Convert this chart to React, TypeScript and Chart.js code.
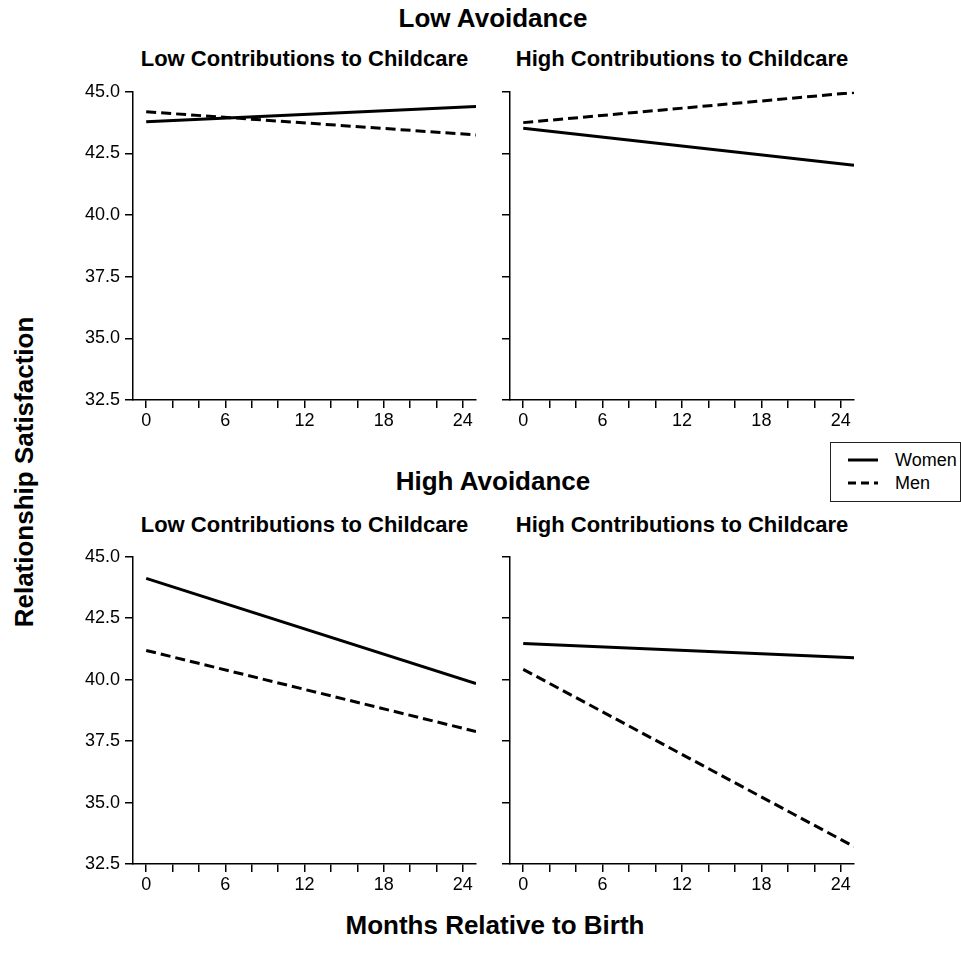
import React, { useEffect, useRef } from "react";
import { Chart, registerables } from "chart.js";

Chart.register(...registerables);

// ---- data ----
const months = [0, 25];
const xTickValues = [0, 2, 4, 6, 8, 10, 12, 14, 16, 18, 20, 22, 24];
const xLabelValues = [0, 6, 12, 18, 24];
const yTickValues = [32.5, 35.0, 37.5, 40.0, 42.5, 45.0];

const lowAvoidLowCareWomen = [43.79, 44.4];
const lowAvoidLowCareMen = [44.19, 43.25];
const lowAvoidHighCareWomen = [43.52, 42.02];
const lowAvoidHighCareMen = [43.75, 44.97];
const highAvoidLowCareWomen = [44.12, 39.84];
const highAvoidLowCareMen = [41.19, 37.89];
const highAvoidHighCareWomen = [41.47, 40.89];
const highAvoidHighCareMen = [40.42, 33.21];

const seriesNames = ["Women", "Men"];
const rowTitles = ["Low Avoidance", "High Avoidance"];
const colTitles = ["Low Contributions to Childcare", "High Contributions to Childcare"];
const xAxisTitle = "Months Relative to Birth";
const yAxisTitle = "Relationship Satisfaction";

const FONT = "'Liberation Sans', Arial, Helvetica, sans-serif";

type PanelProps = {
  left: number;
  top: number;
  width: number;
  height: number;
  yWidth: number;
  xHeight: number;
  padRight: number;
  padTop: number;
  showY: boolean;
  women: number[];
  men: number[];
};

function Panel(p: PanelProps) {
  const ref = useRef<HTMLCanvasElement | null>(null);
  useEffect(() => {
    if (!ref.current) return;
    const gridOpts = {
      display: true,
      drawOnChartArea: false,
      drawTicks: true,
      tickLength: 8,
      color: "#000",
      lineWidth: 1.5,
    };
    const borderOpts = { display: true, color: "#000", width: 1.5 };
    const chart = new Chart(ref.current, {
      type: "line",
      data: {
        datasets: [
          {
            label: seriesNames[0],
            data: months.map((m, i) => ({ x: m, y: p.women[i] })),
            borderColor: "#000",
            borderWidth: 3,
            pointRadius: 0,
            fill: false,
            tension: 0,
          },
          {
            label: seriesNames[1],
            data: months.map((m, i) => ({ x: m, y: p.men[i] })),
            borderColor: "#000",
            borderWidth: 3,
            borderDash: [10, 5],
            pointRadius: 0,
            fill: false,
            tension: 0,
          },
        ],
      },
      options: {
        animation: false,
        responsive: false,
        maintainAspectRatio: false,
        devicePixelRatio: 1,
        layout: { padding: { left: 0, right: p.padRight, top: p.padTop, bottom: 0 } },
        plugins: {
          legend: { display: false },
          title: { display: false },
          tooltip: { enabled: false },
        },
        scales: {
          x: {
            type: "linear",
            min: -1,
            max: 25,
            afterBuildTicks: (s: any) => {
              s.ticks = xTickValues.map((v) => ({ value: v }));
            },
            afterFit: (s: any) => {
              s.height = p.xHeight;
            },
            ticks: {
              autoSkip: false,
              maxRotation: 0,
              padding: 2,
              color: "#000",
              font: { family: FONT, size: 18 },
              callback: (v: any) => (xLabelValues.includes(Number(v)) ? String(v) : ""),
            },
            grid: gridOpts,
            border: borderOpts,
          },
          y: {
            type: "linear",
            min: 32.5,
            max: 45,
            afterBuildTicks: (s: any) => {
              s.ticks = yTickValues.map((v) => ({ value: v }));
            },
            afterFit: (s: any) => {
              s.width = p.yWidth;
            },
            ticks: {
              padding: 5,
              color: "#000",
              font: { family: FONT, size: 18 },
              callback: (v: any) => (p.showY ? Number(v).toFixed(1) : ""),
            },
            grid: gridOpts,
            border: borderOpts,
          },
        },
      },
    } as any);
    return () => chart.destroy();
  }, []);
  return (
    <canvas
      ref={ref}
      width={p.width}
      height={p.height}
      style={{ position: "absolute", left: p.left, top: p.top, width: p.width, height: p.height }}
    />
  );
}

function Text(props: { x: number; baseline: number; size: number; text: string; bold?: boolean }) {
  const { x, baseline, size, text, bold } = props;
  return (
    <div
      style={{
        position: "absolute",
        left: x - 300,
        width: 600,
        top: baseline - 0.8465 * size,
        fontSize: size,
        lineHeight: 1,
        fontWeight: bold ? "bold" : "normal",
        textAlign: "center",
        whiteSpace: "nowrap",
        color: "#000",
      }}
    >
      {text}
    </div>
  );
}

export default function App() {
  const panels: PanelProps[] = [
    { left: 40, top: 76, width: 440, height: 354, yWidth: 93, xHeight: 30, padRight: 4, padTop: 14, showY: true, women: lowAvoidLowCareWomen, men: lowAvoidLowCareMen },
    { left: 480, top: 76, width: 400, height: 354, yWidth: 30, xHeight: 30, padRight: 26, padTop: 14, showY: false, women: lowAvoidHighCareWomen, men: lowAvoidHighCareMen },
    { left: 40, top: 541, width: 440, height: 354, yWidth: 93, xHeight: 31, padRight: 4, padTop: 14, showY: true, women: highAvoidLowCareWomen, men: highAvoidLowCareMen },
    { left: 480, top: 541, width: 400, height: 354, yWidth: 30, xHeight: 31, padRight: 26, padTop: 14, showY: false, women: highAvoidHighCareWomen, men: highAvoidHighCareMen },
  ];
  return (
    <div
      style={{
        position: "absolute",
        left: 0,
        top: 0,
        width: 961,
        height: 962,
        background: "#fff",
        fontFamily: FONT,
        overflow: "hidden",
      }}
    >
      {panels.map((p, i) => (
        <Panel key={i} {...p} />
      ))}
      <Text x={493} baseline={26.7} size={26} text={rowTitles[0]} bold />
      <Text x={493} baseline={490} size={26} text={rowTitles[1]} bold />
      <Text x={304.5} baseline={66.5} size={22} text={colTitles[0]} bold />
      <Text x={682} baseline={66.5} size={22} text={colTitles[1]} bold />
      <Text x={304.5} baseline={533} size={22} text={colTitles[0]} bold />
      <Text x={682} baseline={533} size={22} text={colTitles[1]} bold />
      <Text x={495} baseline={934.5} size={26} text={xAxisTitle} bold />
      <div
        style={{
          position: "absolute",
          left: 24 - 200,
          top: 471.5 - 13,
          width: 400,
          height: 26,
          fontSize: 26,
          lineHeight: 1,
          fontWeight: "bold",
          textAlign: "center",
          whiteSpace: "nowrap",
          transform: "rotate(-90deg)",
          transformOrigin: "50% 50%",
        }}
      >
        {yAxisTitle}
      </div>
      <div
        style={{
          position: "absolute",
          left: 830,
          top: 442,
          width: 129,
          height: 58,
          border: "1px solid #222",
          background: "#fff",
        }}
      >
        <svg width={129} height={58} style={{ position: "absolute", left: 0, top: 0 }}>
          <line x1={17} y1={17} x2={47} y2={17} stroke="#000" strokeWidth={3} />
          <line x1={17} y1={40} x2={47} y2={40} stroke="#000" strokeWidth={3} strokeDasharray="8 5" />
        </svg>
        <div style={{ position: "absolute", left: 64, top: 17 - 9, fontSize: 18, lineHeight: "18px" }}>
          {seriesNames[0]}
        </div>
        <div style={{ position: "absolute", left: 64, top: 40 - 9, fontSize: 18, lineHeight: "18px" }}>
          {seriesNames[1]}
        </div>
      </div>
    </div>
  );
}
